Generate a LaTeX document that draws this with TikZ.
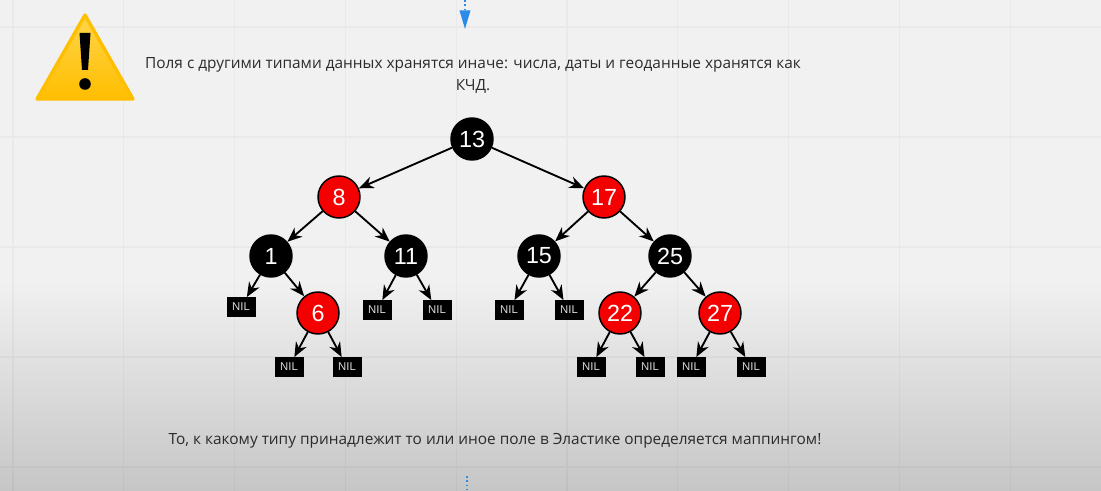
\documentclass[tikz,border=0pt]{standalone}
\usepackage{fontspec}
\setmainfont{Open Sans}
\newfontfamily\numfont{Liberation Sans}
\usepackage{xcolor}
\usetikzlibrary{arrows.meta,positioning}
\definecolor{bgTop}{HTML}{F1F1F1}
\definecolor{bgLow}{HTML}{C6C6C6}
\definecolor{treeRed}{HTML}{F40000}
\definecolor{warnTop}{HTML}{FFD54A}
\definecolor{warnLow}{HTML}{FFBE00}
\definecolor{flowBlue}{HTML}{2B8BE6}
\definecolor{txtGrey}{HTML}{2B2B2B}

\begin{document}
\begin{tikzpicture}[
  x=0.75pt,y=-0.75pt,
  on grid,
  blknode/.style={circle,draw=black,fill=black,line width=1.1pt,minimum size=31.5pt,inner sep=0pt,
                  text=white,font=\numfont\fontsize{17.5}{17.5}\selectfont},
  rednode/.style={blknode,fill=treeRed},
  nil/.style={draw=black,fill=black,minimum width=21pt,minimum height=14.5pt,inner sep=0pt,
              text=white!85!black,font=\numfont\fontsize{8.5}{8.5}\selectfont},
  ar/.style={-{Stealth[length=11pt,width=9pt]},draw=black,line width=1.4pt},
  caption/.style={text=txtGrey,font=\fontsize{11.55}{16.5}\selectfont,align=center},
  gridline/.style={draw=black,opacity=0.03,line width=1pt}]

\useasboundingbox (0,0) rectangle (1101,491);
\fill[bgTop] (0,0) rectangle (1101,280);
\fill[top color=bgTop,bottom color=bgLow,draw=none] (0,280) rectangle (1101,491);
\draw[gridline,xstep=83.1pt,ystep=82.5pt,shift={(13,27)}] (-13,-27) grid (1088,464);

% warning sign
\fill[top color=warnTop,bottom color=warnLow,draw=warnLow,line width=2.5pt,line join=round]
  (85,15) -- (133,99) -- (37,99) -- cycle;
\fill[black] (79.5,33) -- (90.5,33) -- (88,70) -- (82,70) -- cycle;
\fill[black] (85,84) circle (5.8);

\node[caption] (top) at (473,75)
  {Поля с другими типами данных хранятся иначе: числа, даты и геоданные хранятся как\\КЧД.};
\node[caption] (bot) at (495,441)
  {То, к какому типу принадлежит то или иное поле в Эластике определяется маппингом!};

\coordinate (inA) at (465,0);
\coordinate (inB) at (465,29);
\coordinate (outA) at (467,476);
\coordinate (outB) at (467,491);
\draw[flowBlue,line width=1.2pt,dotted,-{Triangle[length=14pt,width=8pt,fill=flowBlue]}] (inA) -- (inB);
\draw[flowBlue,line width=1.2pt,dotted] (outA) -- (outB);

\node[blknode] (n13) at (472,139) {13};
\node[rednode,below left=43.5pt and 99.75pt of n13] (n8) {8};
\node[rednode,below right=43.5pt and 99pt of n13] (n17) {17};
\node[blknode,below left=44.25pt and 51pt of n8] (n1) {1};
\node[blknode,below right=44.25pt and 50.25pt of n8] (n11) {11};
\node[blknode,below left=44.25pt and 48.75pt of n17] (n15) {15};
\node[blknode,below right=44.25pt and 49.5pt of n17] (n25) {25};
\node[nil,below left=38.25pt and 22.5pt of n1] (nilA) {NIL};
\node[rednode,below right=42.75pt and 35.25pt of n1] (n6) {6};
\node[nil,below left=40.5pt and 21.75pt of n11] (nilB) {NIL};
\node[nil,below right=40.5pt and 23.25pt of n11] (nilC) {NIL};
\node[nil,below left=40.5pt and 22.5pt of n15] (nilD) {NIL};
\node[nil,below right=40.5pt and 22.5pt of n15] (nilE) {NIL};
\node[rednode,below left=42.75pt and 37.5pt of n25] (n22) {22};
\node[rednode,below right=42.75pt and 37.5pt of n25] (n27) {27};
\node[nil,below left=40.5pt and 21.75pt of n6] (nilF) {NIL};
\node[nil,below right=40.5pt and 21.75pt of n6] (nilG) {NIL};
\node[nil,below left=40.5pt and 21.75pt of n22] (nilH) {NIL};
\node[nil,below right=40.5pt and 22.5pt of n22] (nilI) {NIL};
\node[nil,below left=40.5pt and 21.75pt of n27] (nilJ) {NIL};
\node[nil,below right=40.5pt and 23.25pt of n27] (nilK) {NIL};

\draw[ar] (n13) -- (n8);
\draw[ar] (n13) -- (n17);
\draw[ar] (n8) -- (n1);
\draw[ar] (n8) -- (n11);
\draw[ar] (n17) -- (n15);
\draw[ar] (n17) -- (n25);
\draw[ar] (n1) -- (nilA);
\draw[ar] (n1) -- (n6);
\draw[ar] (n11) -- (nilB);
\draw[ar] (n11) -- (nilC);
\draw[ar] (n15) -- (nilD);
\draw[ar] (n15) -- (nilE);
\draw[ar] (n25) -- (n22);
\draw[ar] (n25) -- (n27);
\draw[ar] (n6) -- (nilF);
\draw[ar] (n6) -- (nilG);
\draw[ar] (n22) -- (nilH);
\draw[ar] (n22) -- (nilI);
\draw[ar] (n27) -- (nilJ);
\draw[ar] (n27) -- (nilK);
\end{tikzpicture}
\end{document}
